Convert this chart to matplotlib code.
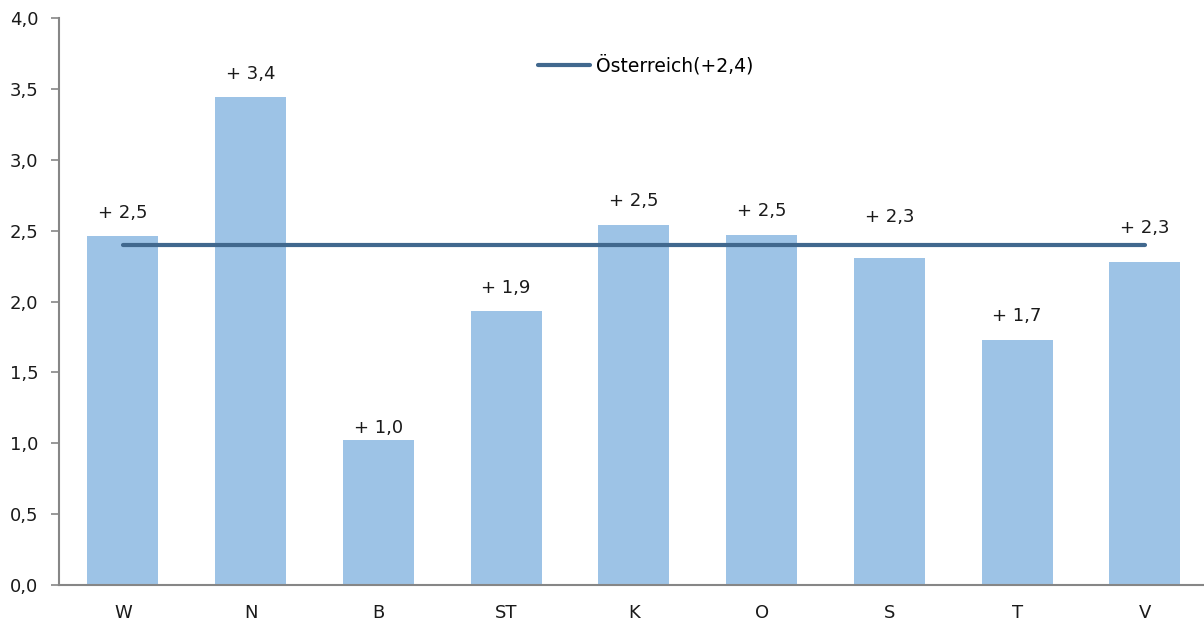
import matplotlib
matplotlib.use("Agg")
import matplotlib.pyplot as plt
from matplotlib.lines import Line2D

plt.rcParams['font.family'] = ['DejaVu Sans']

# Regions and their change values
regions = ["W", "N", "B", "ST", "K", "O", "S", "T", "V"]
changes = [2.46, 3.44, 1.02, 1.93, 2.54, 2.47, 2.31, 1.73, 2.28]
austria = 2.4
austria_label = "Österreich(+2,4)"
yticks = [0.0, 0.5, 1.0, 1.5, 2.0, 2.5, 3.0, 3.5, 4.0]

# vertical offsets (points) of the value labels above the bar tops
label_offsets = [17, 17, 9, 17, 17, 17, 29, 17, 24]

bar_color = "#9DC3E6"
line_color = "#41688E"
axis_color = "#868686"
text_color = "#1a1a1a"
fs = 13

fig = plt.figure(figsize=(12.04, 6.22), dpi=100)
ax = fig.add_axes([0.049, 0.0595, 0.955, 0.9115])

x = list(range(len(regions)))
ax.bar(x, changes, width=0.555, color=bar_color, zorder=2)

for xi, v, off in zip(x, changes, label_offsets):
    ax.annotate(f"+ {v:.1f}".replace(".", ","), (xi, v), xytext=(0, off),
                textcoords="offset points", ha="center", va="center",
                fontsize=fs, color=text_color)

ax.plot([x[0], x[-1]], [austria, austria], color=line_color, lw=3,
        solid_capstyle="round", zorder=3)

handle = Line2D([], [], color=line_color, lw=3, solid_capstyle="round")
ax.legend([handle], [austria_label], loc="center left",
          bbox_to_anchor=(0.4165, 0.916), frameon=False, fontsize=fs + 0.5,
          handlelength=2.8, handletextpad=0.3, borderpad=0, borderaxespad=0)

ax.set_xlim(-0.5, len(regions) - 0.5)
ax.set_ylim(0, 4.0)
ax.set_xticks(x)
ax.set_xticklabels(regions, fontsize=fs, color=text_color)
ax.set_yticks(yticks)
ax.set_yticklabels([f"{t:.1f}".replace(".", ",") for t in yticks],
                   fontsize=fs, color=text_color)
ax.tick_params(axis="x", length=0, pad=14)
ax.tick_params(axis="y", length=6, width=1.2, color=axis_color, pad=9)

for side in ("top", "right"):
    ax.spines[side].set_visible(False)
for side in ("left", "bottom"):
    ax.spines[side].set_color(axis_color)
    ax.spines[side].set_linewidth(1.5)

fig.savefig("out.png", dpi=100)
